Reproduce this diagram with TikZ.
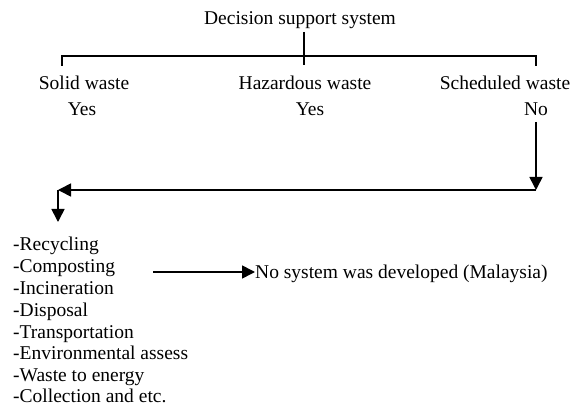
\documentclass[tikz,border=0pt]{standalone}
\usepackage{fontspec}
\setmainfont{Liberation Serif}
\usetikzlibrary{arrows.meta,positioning}

\begin{document}
\begin{tikzpicture}[x=1pt,y=-1pt]
		\tikzstyle{label}=[inner sep=0pt,anchor=base,font=\fontsize{19.5}{22}\selectfont]
		\tikzstyle{branch}=[line width=1.6pt]
		\tikzstyle{flow}=[line width=1.6pt,arrows={-Triangle[width=13pt,length=13pt]}]
		\tikzstyle{item}=[label,anchor=base west]
		
		\useasboundingbox (0,0) rectangle (578,406);
		
		\node[label] (dss) at (300,25) {Decision support system};
		\node[label] (solid) at (84,90) {Solid waste};
		\node[label] (solidans) at (82,116) {Yes};
		\node[label] (haz) at (305,90) {Hazardous waste};
		\node[label] (hazans) at (310,116) {Yes};
		\node[label] (sched) at (505,90) {Scheduled waste};
		\node[label] (schedans) at (536,116) {No};
		
		\coordinate (bl) at (62,56);
		\coordinate (br) at (536,56);
		\draw[branch] (304,32) -- (304,65);
		\draw[branch] (62,66) -- (bl) -- (br) -- (536,66);
		
		\coordinate (turn) at (536,190);
		\coordinate (back) at (58,190);
		\coordinate (down) at (58,222);
		\draw[flow] (536,122) -- (turn);
		\draw[flow] (turn) -- (back);
		\draw[flow] (back) -- (down);
		
		\node[item] (recycling) at (13,250) {-Recycling};
		\node[item] (composting) at (13,272) {-Composting};
		\node[item] (incineration) at (13,294) {-Incineration};
		\node[item] (disposal) at (13,316) {-Disposal};
		\node[item] (transport) at (13,338) {-Transportation};
		\node[item] (envassess) at (13,359) {-Environmental assess};
		\node[item] (energy) at (13,381) {-Waste to energy};
		\node[item] (collection) at (13,402) {-Collection and etc.};
		
		\node[item] (nosystem) at (255,278) {No system was developed (Malaysia)};
		\coordinate (from) at (153,272);
		\draw[flow] (from) -- (from -| nosystem.west);
\end{tikzpicture}
\end{document}
